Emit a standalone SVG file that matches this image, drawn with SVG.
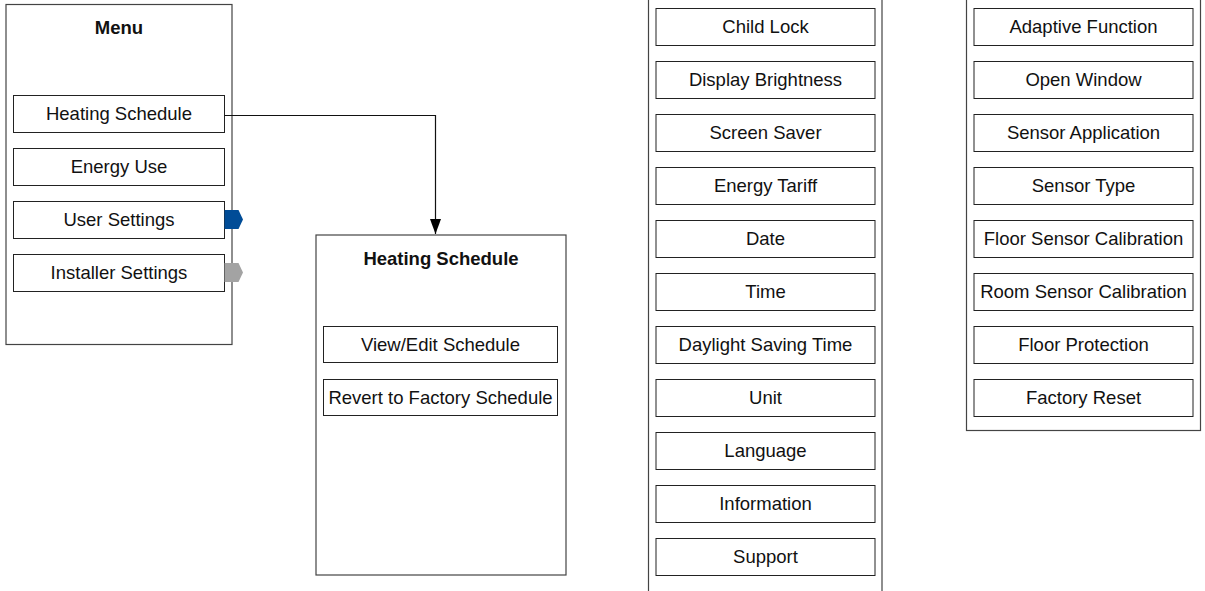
<svg xmlns="http://www.w3.org/2000/svg" width="1205" height="591" viewBox="0 0 1205 591">
<defs>
<style>
.panel{fill:#fff;stroke:#444;stroke-width:1.2}
.item{fill:#fff;stroke:#222;stroke-width:1}
.t{font-family:"Liberation Sans",Arial,Helvetica,sans-serif;font-size:18.5px;fill:#111;text-anchor:middle}
.b{font-weight:bold}
.conn{fill:none;stroke:#111;stroke-width:1.2}
</style>
<marker id="arr" markerWidth="15" markerHeight="12" refX="15" refY="6" orient="auto" markerUnits="userSpaceOnUse" viewBox="0 0 15 12">
<path d="M0,0.5 L15,6 L0,11.5 Z" fill="#000"/>
</marker>
</defs>
<rect width="1205" height="591" fill="#fff"/>

<g id="menu">
<rect class="panel" x="6" y="4.5" width="226" height="340"/>
<text class="t b" x="119" y="34">Menu</text>
<g id="menu-heating"><rect class="item" x="13.5" y="95.5" width="211" height="37"/><text class="t" x="119" y="120">Heating Schedule</text></g>
<g id="menu-energy"><rect class="item" x="13.5" y="148.5" width="211" height="37"/><text class="t" x="119" y="173">Energy Use</text></g>
<g id="menu-user"><rect class="item" x="13.5" y="201.5" width="211" height="37"/><text class="t" x="119" y="226">User Settings</text>
<polygon points="224.5,210 238.5,210 243,219.5 238.5,229 224.5,229" fill="#004C97"/></g>
<g id="menu-installer"><rect class="item" x="13.5" y="254.5" width="211" height="37"/><text class="t" x="119" y="279">Installer Settings</text>
<polygon points="224.5,263 238.5,263 243,272.5 238.5,282 224.5,282" fill="#A3A3A3"/></g>
</g>

<g id="heating-schedule">
<rect class="panel" x="316" y="235" width="250" height="340"/>
<text class="t b" x="441" y="265">Heating Schedule</text>
<g id="hs-view"><rect class="item" x="323.5" y="326.5" width="234" height="36"/><text class="t" x="440.5" y="350.5">View/Edit Schedule</text></g>
<g id="hs-revert"><rect class="item" x="323.5" y="379.5" width="234" height="36"/><text class="t" x="440.5" y="403.5">Revert to Factory Schedule</text></g>
</g>

<g id="user-settings">
<rect class="panel" x="648.5" y="-10" width="233.5" height="620"/>
<g id="us-1"><rect class="item" x="656" y="8.5" width="219" height="37"/><text class="t" x="765.5" y="33">Child Lock</text></g>
<g id="us-2"><rect class="item" x="656" y="61.5" width="219" height="37"/><text class="t" x="765.5" y="86">Display Brightness</text></g>
<g id="us-3"><rect class="item" x="656" y="114.5" width="219" height="37"/><text class="t" x="765.5" y="139">Screen Saver</text></g>
<g id="us-4"><rect class="item" x="656" y="167.5" width="219" height="37"/><text class="t" x="765.5" y="192">Energy Tariff</text></g>
<g id="us-5"><rect class="item" x="656" y="220.5" width="219" height="37"/><text class="t" x="765.5" y="245">Date</text></g>
<g id="us-6"><rect class="item" x="656" y="273.5" width="219" height="37"/><text class="t" x="765.5" y="298">Time</text></g>
<g id="us-7"><rect class="item" x="656" y="326.5" width="219" height="37"/><text class="t" x="765.5" y="351">Daylight Saving Time</text></g>
<g id="us-8"><rect class="item" x="656" y="379.5" width="219" height="37"/><text class="t" x="765.5" y="404">Unit</text></g>
<g id="us-9"><rect class="item" x="656" y="432.5" width="219" height="37"/><text class="t" x="765.5" y="457">Language</text></g>
<g id="us-10"><rect class="item" x="656" y="485.5" width="219" height="37"/><text class="t" x="765.5" y="510">Information</text></g>
<g id="us-11"><rect class="item" x="656" y="538.5" width="219" height="37"/><text class="t" x="765.5" y="563">Support</text></g>
</g>

<g id="installer-settings">
<rect class="panel" x="966.5" y="-10" width="234" height="440.5"/>
<g id="is-1"><rect class="item" x="974" y="8.5" width="219" height="37"/><text class="t" x="1083.5" y="33">Adaptive Function</text></g>
<g id="is-2"><rect class="item" x="974" y="61.5" width="219" height="37"/><text class="t" x="1083.5" y="86">Open Window</text></g>
<g id="is-3"><rect class="item" x="974" y="114.5" width="219" height="37"/><text class="t" x="1083.5" y="139">Sensor Application</text></g>
<g id="is-4"><rect class="item" x="974" y="167.5" width="219" height="37"/><text class="t" x="1083.5" y="192">Sensor Type</text></g>
<g id="is-5"><rect class="item" x="974" y="220.5" width="219" height="37"/><text class="t" x="1083.5" y="245">Floor Sensor Calibration</text></g>
<g id="is-6"><rect class="item" x="974" y="273.5" width="219" height="37"/><text class="t" x="1083.5" y="298">Room Sensor Calibration</text></g>
<g id="is-7"><rect class="item" x="974" y="326.5" width="219" height="37"/><text class="t" x="1083.5" y="351">Floor Protection</text></g>
<g id="is-8"><rect class="item" x="974" y="379.5" width="219" height="37"/><text class="t" x="1083.5" y="404">Factory Reset</text></g>
</g>

<g id="connectors">
<path class="conn" d="M224.5,115.5 H435.5 V234" marker-end="url(#arr)"/>
</g>
</svg>
